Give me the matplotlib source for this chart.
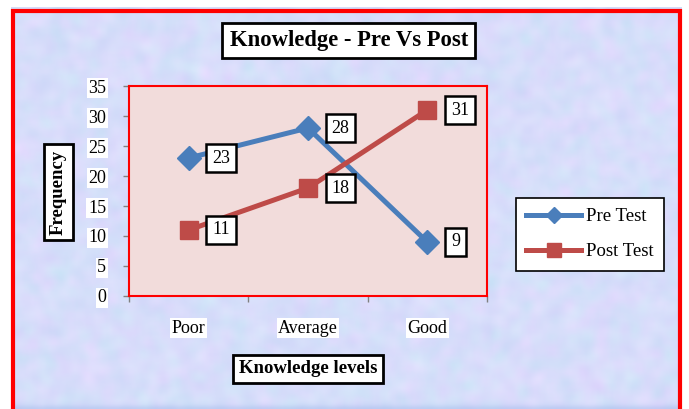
import numpy as np
import matplotlib
matplotlib.use('Agg')
import matplotlib.pyplot as plt
from matplotlib.patches import Rectangle

plt.rcParams['font.family'] = ['Liberation Serif', 'DejaVu Serif']

# dados
niveis = ['Poor', 'Average', 'Good']
pre_test = [23, 28, 9]
post_test = [11, 18, 31]

cor_pre = '#4a7ebb'
cor_pos = '#be4b48'


def suavizar(a, n=2):
    k = np.ones(5) / 5
    for _ in range(n):
        a = np.apply_along_axis(lambda r: np.convolve(r, k, mode='same'), 1, a)
        a = np.apply_along_axis(lambda c: np.convolve(c, k, mode='same'), 0, a)
    return (a - a.min()) / (a.max() - a.min())


fig = plt.figure(figsize=(6.89, 4.09), dpi=100)

# fundo com textura suave (azul/lilas)
bg = fig.add_axes([0, 0, 1, 1], zorder=-10)
rng = np.random.default_rng(3)
h, w = 205, 345
n1 = suavizar(rng.random((h, w)))
n2 = suavizar(rng.random((h, w)))
img = np.zeros((h, w, 3))
img[..., 0] = 0.70 + 0.20 * n1
img[..., 1] = 0.77 + 0.14 * n2
img[..., 2] = 0.94 + 0.06 * n1
img = np.clip(img, 0, 1)
bg.imshow(img, aspect='auto', extent=[0, 1, 0, 1], interpolation='bilinear')
bg.set_xlim(0, 1)
bg.set_ylim(0, 1)
bg.axis('off')
bg.add_patch(Rectangle((0, 0.982), 1, 0.018, facecolor='white', edgecolor='none'))
bg.add_patch(Rectangle((0, 0), 0.016, 1, facecolor='white', edgecolor='none'))
bg.add_patch(Rectangle((0.99, 0), 0.01, 1, facecolor='white', edgecolor='none'))
bg.add_patch(Rectangle((0.0195, -0.05), 0.967, 1.022, facecolor='none', edgecolor='#ff0000', lw=3))

ax = fig.add_axes([0.1872, 0.2763, 0.5196, 0.5134])
ax.set_facecolor('#f2dcdb')
x = np.arange(len(niveis))
ax.plot(x, pre_test, color=cor_pre, lw=3.6, marker='D', markersize=12, label='Pre Test')
ax.plot(x, post_test, color=cor_pos, lw=3.6, marker='s', markersize=13.5, label='Post Test')

ax.set_xlim(-0.5, 2.5)
ax.set_ylim(0, 35)
ax.set_yticks(range(0, 36, 5))
ax.set_xticks(x)
ax.set_xticklabels(niveis)
ax.set_xticks([-0.5, 0.5, 1.5, 2.5], minor=True)
ax.tick_params(axis='x', which='major', length=0, pad=17, labelsize=13)
ax.tick_params(axis='x', which='minor', length=4, color='#808080', width=1)
ax.tick_params(axis='y', length=4, color='#808080', width=1, pad=12.5, labelsize=13)
for lbl in ax.get_xticklabels() + ax.get_yticklabels():
    lbl.set_bbox(dict(facecolor='white', edgecolor='none', pad=1))
for s in ax.spines.values():
    s.set_color('#ff0000')
    s.set_linewidth(1.5)

caixa = dict(boxstyle='square,pad=0.32', facecolor='white', edgecolor='black', lw=1.8)
for serie in (pre_test, post_test):
    for xi, v in zip(x, serie):
        ax.annotate(str(v), (xi, v), xytext=(17, 0), textcoords='offset points',
                    ha='left', va='center', fontsize=13, bbox=caixa)

fig.text(0.506, 0.901, 'Knowledge - Pre Vs Post', ha='center', va='center',
         fontsize=16.3, fontweight='bold',
         bbox=dict(boxstyle='square,pad=0.32', facecolor='white', edgecolor='black', lw=2))
fig.text(0.085, 0.53, 'Frequency', rotation=90, ha='center', va='center',
         fontsize=13.5, fontweight='bold',
         bbox=dict(boxstyle='square,pad=0.3', facecolor='white', edgecolor='black', lw=2))
fig.text(0.447, 0.098, 'Knowledge levels', ha='center', va='center',
         fontsize=13.5, fontweight='bold',
         bbox=dict(boxstyle='square,pad=0.3', facecolor='white', edgecolor='black', lw=2))

leg = ax.legend(loc='center left', bbox_to_anchor=(0.749, 0.427), bbox_transform=fig.transFigure,
                fontsize=13.5, frameon=True, fancybox=False, edgecolor='black',
                handlelength=2.9, handletextpad=0.3, labelspacing=0.95, borderpad=0.55,
                borderaxespad=0, markerscale=0.7)
leg.get_frame().set_linewidth(1.2)
leg.get_frame().set_facecolor('white')
leg.get_frame().set_alpha(1)

fig.savefig('out.png', dpi=100)
